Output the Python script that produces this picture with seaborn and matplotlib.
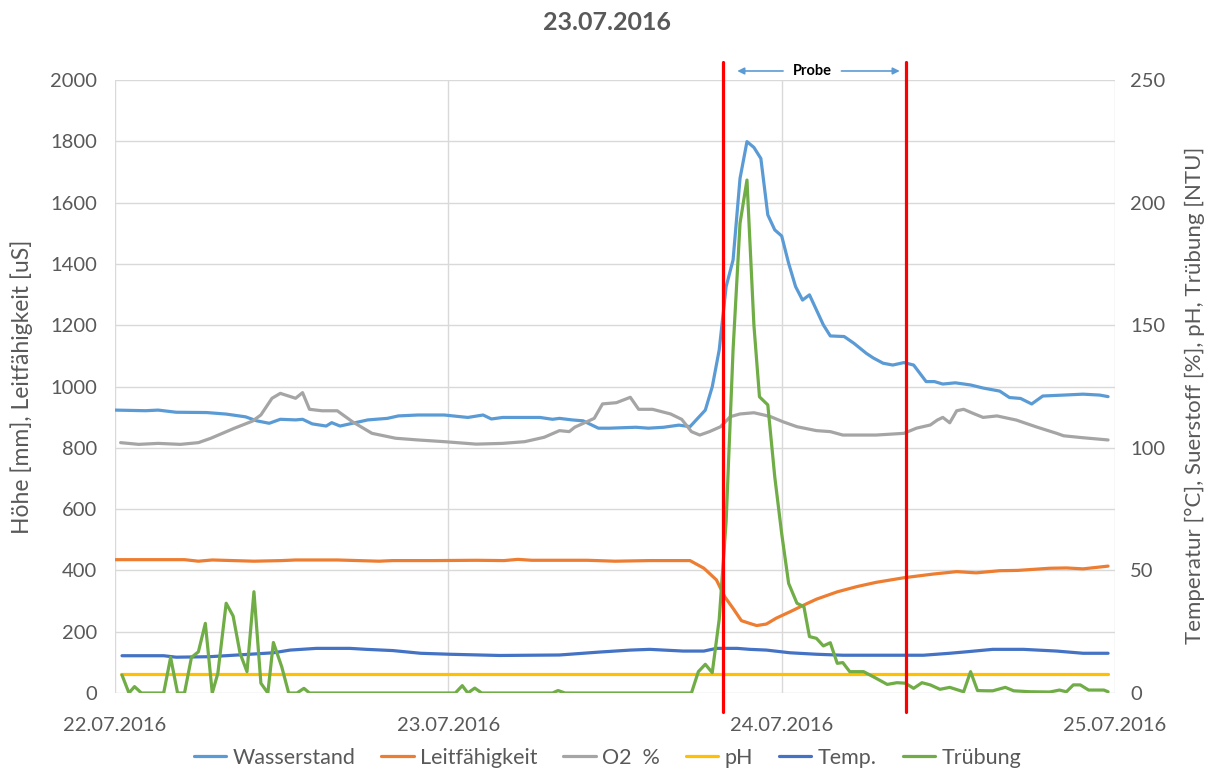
import matplotlib
matplotlib.use("Agg")
import matplotlib.pyplot as plt
import seaborn as sns

# hours since 22.07.2016 00:00
ws_h = [0, 2.2, 3.1, 4.4, 6.6, 8.0, 9.4, 10.2, 11.1, 11.9, 13.0, 13.5, 14.2, 15.2, 15.6, 16.2, 16.9,
        18.2, 19.6, 20.4, 21.8, 23.7, 25.4, 26.5, 27.1, 27.9, 30.6, 31.5, 32.0, 32.9, 33.7, 34.8, 35.6,
        37.5, 38.4, 39.5, 40.6, 41.4, 42.5, 43.0, 43.5, 44.0, 44.5, 45.0, 45.5, 46.0, 46.5, 47.0, 47.5,
        48.0, 48.5, 49.0, 49.5, 50.0, 50.5, 51.0, 51.5, 52.5, 53.2, 54.1, 54.6, 55.3, 56.0, 56.8, 57.5,
        58.4, 59.0, 59.6, 60.5, 61.6, 62.5, 63.7, 64.4, 65.2, 66.0, 66.8, 68.3, 69.7, 70.9, 71.5]
wasserstand = [923, 921, 923, 916, 915, 910, 901, 888, 880, 893, 891, 893, 878, 871, 882, 871, 878,
               891, 896, 904, 907, 907, 899, 907, 894, 899, 899, 893, 896, 891, 888, 864, 864,
               867, 864, 867, 874, 869, 923, 999, 1119, 1326, 1413, 1679, 1799, 1780, 1744, 1560, 1511,
               1491, 1402, 1326, 1282, 1299, 1250, 1201, 1165, 1163, 1141, 1108, 1093, 1076, 1070, 1078, 1070,
               1016, 1016, 1008, 1012, 1005, 995, 985, 964, 961, 943, 969, 972, 975, 972, 967]

lf_h = [0, 5, 6, 7, 10, 12, 13, 16, 19, 20, 23, 26, 28, 29, 30, 34, 36, 38.5, 41.4, 42.4, 43.3,
        43.9, 44.5, 45.1, 45.7, 46.2, 46.9, 47.6, 48.6, 49.6, 50.5, 52.0, 53.4, 54.8, 56.8, 58.9,
        60.6, 62.0, 63.7, 65.0, 67.3, 68.5, 69.7, 71.5]
leitfaehigkeit = [435, 435, 430, 434, 430, 432, 434, 434, 430, 432, 432, 433, 432, 436, 433, 433, 430,
                  432, 432, 407, 369, 314, 276, 236, 227, 220, 225, 244, 265, 287, 306, 330, 347, 361,
                  376, 388, 396, 392, 399, 400, 407, 408, 405, 414]

o2_h = [0.4, 1.7, 3.1, 4.7, 6.0, 6.9, 8.6, 9.9, 10.5, 11.3, 11.9, 13.0, 13.5, 14.0, 14.9, 16.0, 17.1,
        18.5, 20.2, 21.8, 23.7, 26.0, 27.9, 29.5, 30.9, 32.0, 32.7, 33.1, 34.5, 35.1, 36.1, 37.1, 37.7,
        38.7, 40.0, 40.8, 41.5, 42.1, 42.8, 43.6, 44.3, 45.0, 46.0, 46.7, 47.2, 48.1, 49.1, 50.5, 51.5,
        52.4, 54.8, 56.8, 57.7, 58.7, 59.2, 59.6, 60.1, 60.6, 61.1, 61.8, 62.5, 63.5, 64.9, 66.4, 67.8,
        68.3, 69.7, 71.5]
o2 = [102.1, 101.4, 101.8, 101.4, 102.1, 103.9, 108, 110.9, 113.4, 120.2, 122.2, 120.2, 122.5, 115.7,
      115.1, 115.1, 110.6, 105.9, 103.9, 103.2, 102.5, 101.5, 101.8, 102.5, 104.3, 107, 106.6, 108.4,
      112, 117.9, 118.4, 120.6, 115.7, 115.7, 113.8, 111.6, 106.6, 105.2, 106.6, 108.6, 112.7, 113.8,
      114.3, 113.4, 112.7, 110.6, 108.6, 107, 106.6, 105.2, 105.2, 105.9, 108, 109.3, 111.3, 112.4,
      110.2, 115.1, 115.7, 114, 112.4, 113, 111.3, 108.4, 105.9, 104.9, 104.1, 103.2]

ph_h = [0.4, 24, 48, 71.5]
ph = [7.8, 7.8, 7.8, 7.8]

temp_h = [0.5, 3.5, 4.4, 6.8, 9.7, 11.4, 12.6, 14.5, 16.9, 18.1, 20.0, 22.0, 24.1, 27.7, 32.0, 34.9,
          37.1, 38.5, 40.9, 42.4, 43.3, 44.8, 45.7, 46.9, 48.6, 50.5, 52.4, 58.2, 60.1, 61.3, 63.2,
          65.4, 67.8, 69.7, 71.5]
temp = [15.2, 15.2, 14.6, 14.8, 15.8, 16.4, 17.5, 18.2, 18.2, 17.8, 17.3, 16.2, 15.8, 15.3, 15.5, 16.7,
        17.5, 17.8, 17.1, 17.1, 18.2, 18.2, 17.8, 17.5, 16.4, 15.8, 15.4, 15.4, 16.2, 16.8, 17.8,
        17.8, 17.1, 16.2, 16.2]

tr_h = [0.5, 1.0, 1.4, 1.9, 3.5, 4.0, 4.5, 5.0, 5.5, 6.0, 6.5, 7.0, 7.4, 8.0, 8.5, 9.0, 9.5, 10.0,
        10.5, 11.0, 11.4, 12.0, 12.5, 13.1, 13.6, 14.0, 24.5, 25.0, 25.4, 25.9, 26.4, 31.5, 31.9, 32.4,
        41.5, 42.0, 42.5, 43.0, 43.5, 44.0, 44.5, 45.0, 45.5, 46.0, 46.4, 47.0, 47.5, 48.0, 48.5, 49.1,
        49.6, 50.0, 50.5, 51.0, 51.5, 52.0, 52.4, 52.9, 53.9, 54.8, 55.6, 56.3, 56.9, 57.5, 58.1, 58.7,
        59.4, 60.1, 61.1, 61.6, 62.1, 62.8, 63.2, 64.1, 64.7, 65.9, 67.3, 68.0, 68.5, 69.0, 69.5, 70.1,
        71.2, 71.5]
truebung = [7.3, 0, 2.6, 0, 0, 14.5, 0, 0, 14.5, 16.8, 28.4, 0, 8, 36.6, 31.4, 16.2, 8.7, 41.3,
            4.0, 0, 20.6, 10.7, 0, 0, 1.9, 0, 0, 3, 0, 2, 0, 0, 1, 0,
            0, 8.7, 11.7, 8.3, 30, 70, 140, 191.6, 209.2, 150, 120.8, 117.5, 88.2, 65, 44.7, 36.6,
            35.2, 23, 22.3, 19.2, 20.5, 12.1, 12.4, 8.7, 8.7, 6, 3.5, 4.2, 4.0, 1.9, 4.2, 3.3,
            1.5, 2.3, 0.5, 8.7, 1.0, 0.9, 0.9, 2.3, 0.9, 0.5, 0.4, 1.2, 0.5, 3.3, 3.3, 1.2,
            1.2, 0.5]

probe_start = 43.77
probe_end = 56.95
date_ticks = [0, 24, 48, 72]
date_labels = ["22.07.2016", "23.07.2016", "24.07.2016", "25.07.2016"]

GREY = "#595959"
GRID = "#D9D9D9"

sns.set_style("white")
plt.rcParams["font.family"] = ["Lato", "DejaVu Sans"]

fig = plt.figure(figsize=(12.15, 7.73), dpi=100)
ax = fig.add_axes([0.0947, 0.1035, 0.823, 0.793])
ax2 = ax.twinx()

left_series = [(ws_h, wasserstand, "#5B9BD5", "Wasserstand"),
               (lf_h, leitfaehigkeit, "#ED7D31", "Leitfähigkeit")]
right_series = [(o2_h, o2, "#A5A5A5", "O2  %"),
                (ph_h, ph, "#FFC000", "pH"),
                (temp_h, temp, "#4472C4", "Temp."),
                (tr_h, truebung, "#70AD47", "Trübung")]

handles = []
for xs, ys, col, lab in left_series:
    sns.lineplot(x=xs, y=ys, ax=ax, color=col, linewidth=2.3, estimator=None, sort=False)
    handles.append((ax.get_lines()[-1], lab))
for xs, ys, col, lab in right_series:
    sns.lineplot(x=xs, y=ys, ax=ax2, color=col, linewidth=2.3, estimator=None, sort=False)
    handles.append((ax2.get_lines()[-1], lab))

ax.set_xlim(0, 72)
ax.set_ylim(0, 2000)
ax2.set_ylim(0, 250)
ax.set_yticks(range(0, 2001, 200))
ax2.set_yticks(range(0, 251, 50))
ax.set_xticks(date_ticks)
ax.set_xticklabels(date_labels)
ax.set_ylabel("")
ax2.set_ylabel("")

ax.grid(True, color=GRID, linewidth=1)
ax2.grid(False)
for a in (ax, ax2):
    for s in a.spines.values():
        s.set_visible(False)
ax.tick_params(axis="x", length=0, pad=17, labelsize=14.5, labelcolor=GREY)
ax.tick_params(axis="y", length=0, pad=13, labelsize=14.5, labelcolor=GREY)
ax2.tick_params(axis="y", length=0, pad=11, labelsize=14.5, labelcolor=GREY)

# sample window
for xv in (probe_start, probe_end):
    ax2.axvline(xv, ymin=-0.031, ymax=1.029, color="#FF0000", linewidth=2.3, clip_on=False, zorder=10)

ax2.text(50.2, 1.0147, "Probe", transform=ax2.get_xaxis_transform(), ha="center", va="center",
         fontsize=10.5, fontweight="bold", color="black")
arrow = dict(arrowstyle="-|>", color="#5B9BD5", lw=1.2, mutation_scale=10)
ax2.annotate("", xy=(44.6, 1.0147), xytext=(48.3, 1.0147), xycoords=ax2.get_xaxis_transform(),
             textcoords=ax2.get_xaxis_transform(), arrowprops=arrow, annotation_clip=False)
ax2.annotate("", xy=(56.7, 1.0147), xytext=(52.1, 1.0147), xycoords=ax2.get_xaxis_transform(),
             textcoords=ax2.get_xaxis_transform(), arrowprops=arrow, annotation_clip=False)

fig.text(0.5, 1 - 22 / 773, "23.07.2016", ha="center", va="center", fontsize=18,
         fontweight="bold", color=GREY)
fig.text(22 / 1215, 1 - 387 / 773, "Höhe [mm], Leitfähigkeit [uS]", rotation=90,
         ha="center", va="center", fontsize=16.5, color=GREY)
fig.text(1195 / 1215, 1 - 395 / 773, "Temperatur [°C], Suerstoff [%], pH, Trübung [NTU]",
         rotation=90, ha="center", va="center", fontsize=16, color=GREY)

leg = fig.legend([h for h, _ in handles], [l for _, l in handles], loc="center",
                 bbox_to_anchor=(0.5, 1 - 758 / 773), ncol=6, frameon=False, fontsize=15.5,
                 handlelength=1.5, handletextpad=0.3, columnspacing=1.2)
for t in leg.get_texts():
    t.set_color(GREY)

fig.savefig("out.png", dpi=100)
plt.close(fig)
